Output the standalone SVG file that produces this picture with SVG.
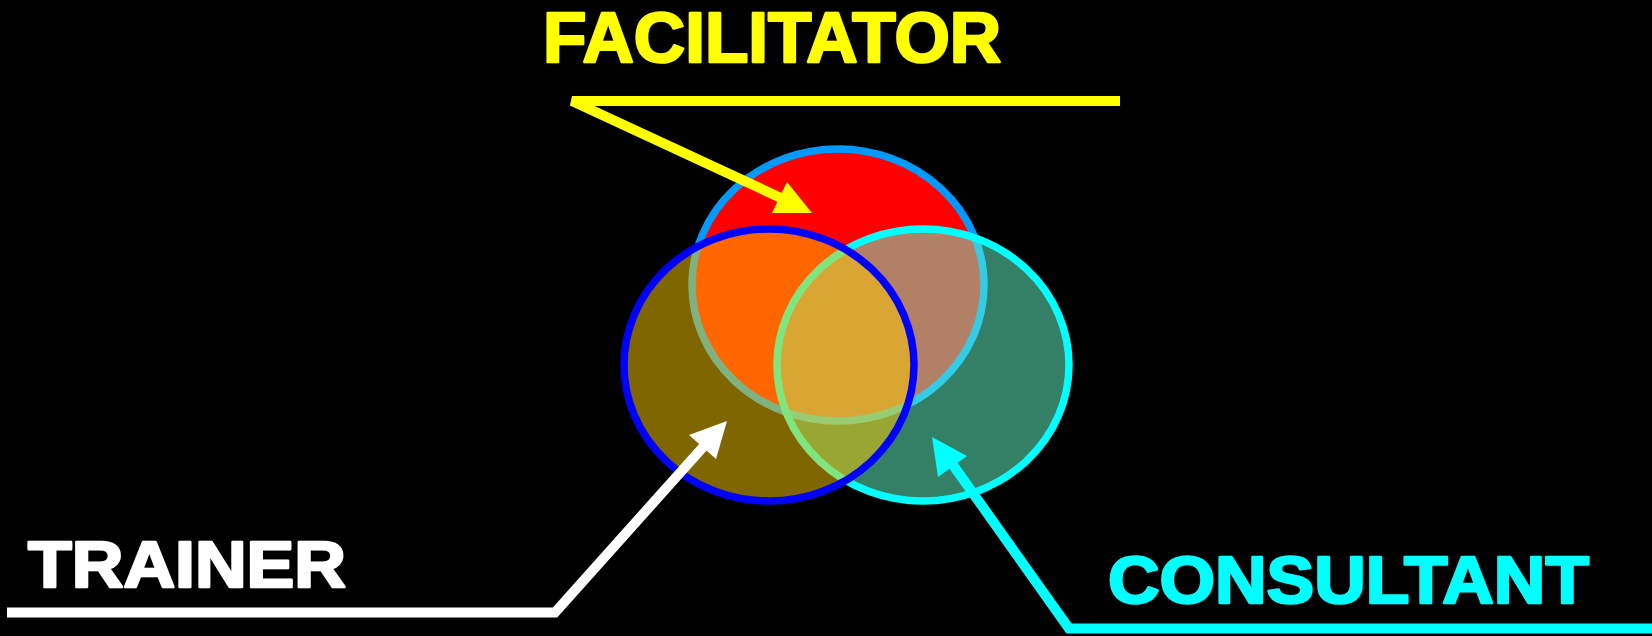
<svg xmlns="http://www.w3.org/2000/svg" width="1652" height="636" viewBox="0 0 1652 636">
<style>
.lbl{font-family:"Liberation Sans",Arial,sans-serif;font-weight:bold;stroke-width:2.5;stroke-linejoin:round}
.conn{fill:none;stroke-width:10;stroke-linejoin:miter;stroke-linecap:butt}
</style>
<rect x="0" y="0" width="1652" height="636" fill="#000"/>
<g id="facilitator-circle">
<ellipse cx="838" cy="285" rx="146" ry="136" fill="#FF0000" stroke="#0099FF" stroke-width="7.5"/>
</g>
<g id="consultant-circle">
<ellipse cx="923" cy="365" rx="146" ry="136" fill="#66FFCC" fill-opacity="0.5" stroke="#00FFFF" stroke-width="7.5"/>
</g>
<g id="trainer-circle">
<ellipse cx="769" cy="365" rx="145" ry="136" fill="#FFCC00" fill-opacity="0.5" stroke="#0000FF" stroke-width="7.5"/>
</g>
<g id="facilitator-label">
<text class="lbl" x="543" y="62" font-size="70" textLength="458" lengthAdjust="spacingAndGlyphs" fill="#FFFF00" stroke="#FFFF00">FACILITATOR</text>
</g>
<g id="trainer-label">
<text class="lbl" x="28" y="587" font-size="64" textLength="318" lengthAdjust="spacingAndGlyphs" fill="#FFFFFF" stroke="#FFFFFF">TRAINER</text>
</g>
<g id="consultant-label">
<text class="lbl" x="1108" y="603" font-size="67" textLength="481" lengthAdjust="spacingAndGlyphs" fill="#00FFFF" stroke="#00FFFF">CONSULTANT</text>
</g>
<g id="connectors">
<polyline class="conn" stroke="#FFFF00" points="1120,101 572,101 781,198"/>
<polygon fill="#FFFF00" points="787,182 772,213 812,213"/>
<polyline class="conn" stroke="#FFFFFF" points="7,612.5 555,612.5 704,446"/>
<polygon fill="#FFFFFF" points="727,421 689,435 716,459"/>
<polyline class="conn" stroke="#00FFFF" points="1652,628.5 1069,628.5 953,465"/>
<polygon fill="#00FFFF" points="932,437 967,456 938,477"/>
</g>
</svg>
